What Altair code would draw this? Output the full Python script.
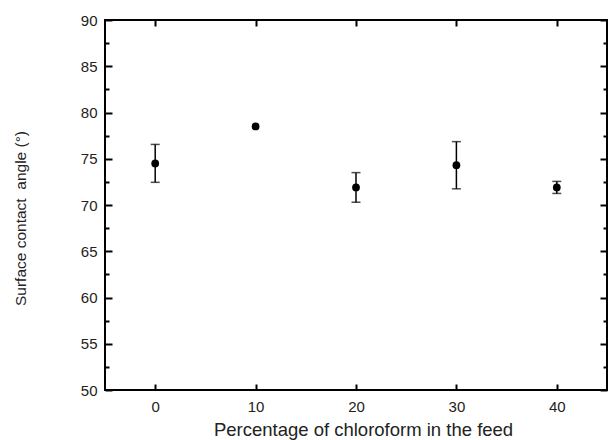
import altair as alt
import pandas as pd

chloroform_pct = [0, 10, 20, 30, 40]
contact_angle = [74.5, 78.5, 71.9, 74.3, 71.9]
angle_err = [2.05, 0.0, 1.6, 2.55, 0.65]

x_ticks = [0, 10, 20, 30, 40]
y_major = [50, 55, 60, 65, 70, 75, 80, 85, 90]
y_minor = [52.5, 57.5, 62.5, 67.5, 72.5, 77.5, 82.5, 87.5]

df = pd.DataFrame({"x": chloroform_pct, "y": contact_angle, "err": angle_err})
df["lo"] = df["y"] - df["err"]
df["hi"] = df["y"] + df["err"]

FONT = "Liberation Sans"
xs = alt.Scale(domain=[-5, 45], nice=False, zero=False)
ys = alt.Scale(domain=[50, 90], nice=False, zero=False)

def tick_axis(orient, values, size, labels=False, title=None, **kw):
    return alt.Axis(orient=orient, values=values, tickSize=size, offset=-size,
                    tickWidth=2, tickColor="black", domain=False, grid=False,
                    labels=labels, title=title, **kw)

base = alt.Chart(df)
err_df = base.transform_filter("datum.err > 0")

rules = err_df.mark_rule(color="black", strokeWidth=1.5).encode(
    x=alt.X("x:Q", scale=xs, axis=tick_axis("top", x_ticks, 6)),
    y=alt.Y("lo:Q", scale=ys, axis=tick_axis("left", y_minor, 4)),
    y2="hi:Q",
)
cap_hi = err_df.mark_tick(color="black", orient="horizontal", size=9, thickness=1.5).encode(
    x=alt.X("x:Q", scale=xs, axis=None),
    y=alt.Y("hi:Q", scale=ys, axis=tick_axis("right", y_major, 7)),
)
cap_lo = err_df.mark_tick(color="black", orient="horizontal", size=9, thickness=1.5).encode(
    x=alt.X("x:Q", scale=xs, axis=None),
    y=alt.Y("lo:Q", scale=ys, axis=tick_axis("right", y_minor, 4)),
)
points = base.mark_point(filled=True, color="black", size=60, opacity=1).encode(
    x=alt.X("x:Q", scale=xs,
            axis=tick_axis("bottom", x_ticks, 6, labels=True,
                           title="Percentage of chloroform in the feed",
                           labelPadding=9, titlePadding=6, titleFontSize=18.5,
                           titleX=258)),
    y=alt.Y("y:Q", scale=ys,
            axis=tick_axis("left", y_major, 7, labels=True,
                           title="Surface contact\u00a0 angle (°)",
                           labelPadding=8, titlePadding=52, titleFontSize=15.5,
                           titleY=198)),
)

chart = alt.layer(rules, cap_hi, cap_lo, points).resolve_axis(
    x="independent", y="independent"
).properties(
    width=502, height=370,
    autosize=alt.AutoSizeParams(type="none"),
    padding={"left": 105, "top": 20, "right": 1, "bottom": 50},
).configure_view(
    stroke="black", strokeWidth=2
).configure_axis(
    labelFont=FONT, titleFont=FONT, labelFontSize=15, titleFontSize=18,
    labelColor="#222222", titleColor="#222222", titleFontWeight="normal",
)

chart.save("out.html", embed_options={"renderer": "svg", "actions": False})
